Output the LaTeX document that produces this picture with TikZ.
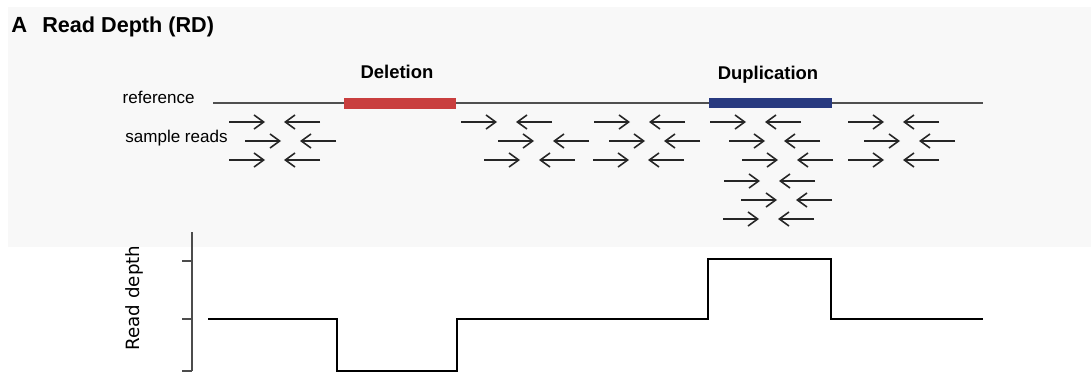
\documentclass[tikz,border=0pt]{standalone}
\usepackage{fontspec}
\setmainfont{Liberation Sans}
\newfontfamily\axisfont{DejaVu Sans}
\usetikzlibrary{arrows.meta}
\definecolor{panelgray}{RGB}{248,248,248}
\definecolor{delred}{RGB}{201,62,62}
\definecolor{dupblue}{RGB}{40,58,128}
\definecolor{lightline}{RGB}{80,80,80}
\tikzset{
  read/.style={line width=0.9pt, black!85, -{Straight Barb[length=5.5pt,width=8pt]}},
  refline/.style={line width=1.1pt, lightline},
  lbl/.style={inner sep=0pt, font=\fontsize{9.7}{11}\selectfont},
  svlbl/.style={inner sep=0pt, font=\bfseries\fontsize{10.5}{12}\selectfont},
  depth/.style={line width=0.8pt, black},
}
\begin{document}
\begin{tikzpicture}[x=0.02cm, y=-0.02cm]
\useasboundingbox (0,0) rectangle (1091,372);
\fill[panelgray] (8,7) rectangle (1091,247);

% title
\node[inner sep=0pt, anchor=base west, font=\bfseries\fontsize{12.5}{14}\selectfont] (panel) at (11,32) {A};
\node[inner sep=0pt, anchor=base west, font=\bfseries\fontsize{12.3}{14}\selectfont] (title) at (42,32) {Read Depth (RD)};

% reference with the two events
\coordinate (refL) at (213,103);
\coordinate (refR) at (983,103);
\draw[refline] (refL) -- (refR);
\fill[delred] (344,97.5) rectangle (456,108.5);
\fill[dupblue] (709,97.5) rectangle (832,107.5);
\node[svlbl, anchor=base] (del) at (397,78) {Deletion};
\node[svlbl, anchor=base] (dup) at (768,79) {Duplication};
\node[lbl, anchor=base east] (ref) at (195,103) {reference};
\node[lbl, anchor=base east] (smp) at (228,142) {sample reads};

% read pairs: start of forward read / row
\foreach \x/\y [count=\i] in {229/122, 245/141, 229/160,
    461/122, 498/141, 484/160, 594/122, 609/141, 593/160,
    710/122, 729/141, 742/160, 724/181, 741/200, 723/219,
    848/122, 864/141, 848/160} {
  \coordinate (f\i a) at (\x,\y);
  \coordinate (f\i b) at (\x+36,\y);
  \coordinate (r\i a) at (\x+91,\y);
  \coordinate (r\i b) at (\x+55,\y);
  \draw[read] (f\i a) -- (f\i b);
  \draw[read] (r\i a) -- (r\i b);
}

% read depth track
\coordinate (ytop) at (192,232);
\coordinate (ybot) at (192,371);
\draw[line width=0.8pt, black!70] (ytop) -- (ybot);
\foreach \t in {261,319,371}
  \draw[line width=0.8pt, black!70] (182,\t) -- (192,\t);
\node[rotate=90, inner sep=0pt, font=\axisfont\fontsize{10.4}{12}\selectfont] (ylab) at (134,298) {Read depth};

\coordinate (p0) at (208,319);
\coordinate (p1) at (337,319);
\coordinate (p2) at (337,371);
\coordinate (p3) at (457,371);
\coordinate (p4) at (457,319);
\coordinate (p5) at (708,319);
\coordinate (p6) at (708,259);
\coordinate (p7) at (831,259);
\coordinate (p8) at (831,319);
\coordinate (p9) at (983,319);
\draw[depth] (p0) -- (p1) -- (p2) -- (p3) -- (p4) -- (p5) -- (p6) -- (p7) -- (p8) -- (p9);
\end{tikzpicture}
\end{document}
